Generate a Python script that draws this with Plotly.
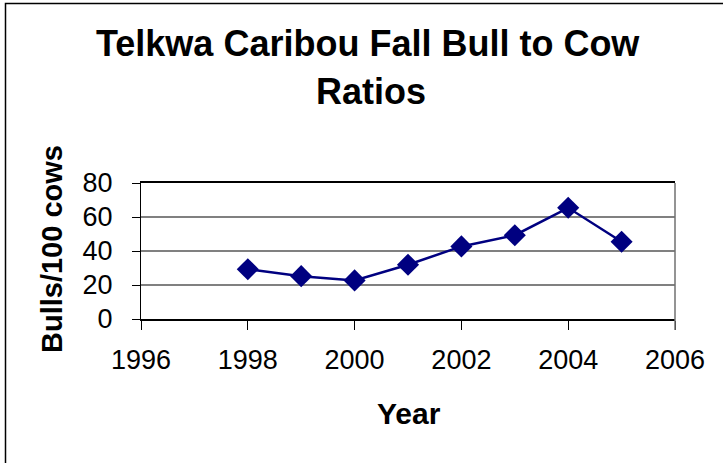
import plotly.graph_objects as go

years = [1998, 1999, 2000, 2001, 2002, 2003, 2004, 2005]
ratios = [29.3, 25.2, 22.7, 31.9, 42.7, 49.3, 65.4, 45.4]
x_ticks = [1996, 1998, 2000, 2002, 2004, 2006]
y_ticks = [0, 20, 40, 60, 80]

W, H = 723, 463
L, R, T, B = 141, 675, 183, 319

def px(x):
    return (x - L) / (R - L)

def py(y):
    return (B - y) / (B - T)

FONT = "Liberation Sans, Arial, sans-serif"

fig = go.Figure()
fig.add_trace(go.Scatter(
    x=years, y=ratios, mode="lines+markers",
    line=dict(color="#000080", width=2.5),
    marker=dict(symbol="diamond", size=17, color="#000080"),
    showlegend=False, hoverinfo="x+y",
))

fig.update_layout(
    width=W, height=H,
    margin=dict(l=L, r=W - R, t=T, b=H - B, pad=0),
    paper_bgcolor="white", plot_bgcolor="white",
    font=dict(family=FONT, color="black"),
    xaxis=dict(
        range=[1996, 2006], tickvals=x_ticks, ticktext=[str(v) for v in x_ticks],
        showgrid=False, zeroline=False,
        showline=True, linecolor="black", linewidth=1.5, mirror=True,
        ticks="outside", ticklen=9, tickcolor="black", tickwidth=1,
        tickfont=dict(size=27, family=FONT, color="black"),
        ticklabelstandoff=7,
    ),
    yaxis=dict(
        range=[0, 80], tickvals=y_ticks,
        showgrid=True, gridcolor="#808080", gridwidth=1.5,
        zeroline=False,
        showline=True, linecolor="black", linewidth=1,
        ticks="outside", ticklen=8, tickcolor="black", tickwidth=1,
        tickfont=dict(size=27, family=FONT, color="black"),
        ticklabelstandoff=14,
    ),
    shapes=[
        dict(type="line", xref="paper", yref="paper", x0=1, x1=1, y0=py(330), y1=1,
             line=dict(color="#707070", width=1.5)),
        dict(type="rect", xref="paper", yref="paper",
             x0=px(5.5), x1=px(800), y0=py(520), y1=py(3.5),
             line=dict(color="black", width=1.5), fillcolor="rgba(0,0,0,0)", layer="below"),
    ],
    annotations=[
        dict(text="<b>Telkwa Caribou Fall Bull to Cow</b>", xref="paper", yref="paper",
             x=px(368), y=py(43.5), xanchor="center", yanchor="middle", showarrow=False,
             font=dict(size=36, family=FONT, color="black")),
        dict(text="<b>Ratios</b>", xref="paper", yref="paper",
             x=px(370.5), y=py(91.5), xanchor="center", yanchor="middle", showarrow=False,
             font=dict(size=36, family=FONT, color="black")),
        dict(text="<b>Year</b>", xref="paper", yref="paper",
             x=px(409), y=py(413), xanchor="center", yanchor="middle", showarrow=False,
             font=dict(size=30, family=FONT, color="black")),
        dict(text="<b>Bulls/100 cows</b>", xref="paper", yref="paper",
             x=px(52), y=py(249), xanchor="center", yanchor="middle", showarrow=False,
             textangle=-90, font=dict(size=29, family=FONT, color="black")),
    ],
)

fig.write_html("out.html", config={"displayModeBar": False},
               post_script="document.body.style.margin='0px';document.body.style.overflow='hidden';")
